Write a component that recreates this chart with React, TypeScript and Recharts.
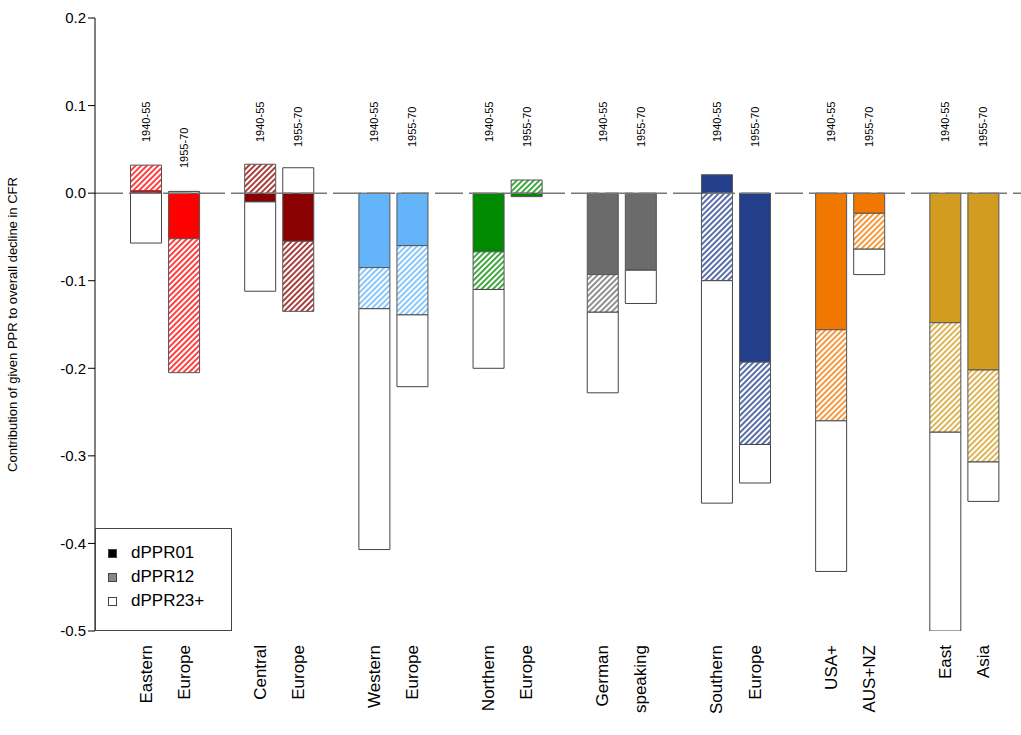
import React from "react";
import { BarChart, Bar, XAxis, YAxis, Cell, LabelList, ReferenceLine } from "recharts";

// 24 slots: two bars per region plus one empty spacer slot
const axisLabels = [
  "Eastern", "Europe", "", "Central", "Europe", "", "Western", "Europe", "",
  "Northern", "Europe", "", "German", "speaking", "", "Southern", "Europe", "",
  "USA+", "AUS+NZ", "", "East", "Asia", "",
];
const periods = ["1940-55", "1955-70", ""];
const regionColors = ["#ff0000", "#8b0000", "#63b4f8", "#008a00", "#6b6b6b", "#233f8c", "#f07800", "#d19c1f"];

const d01 = [0.003, -0.052, null, -0.01, -0.055, null, -0.085, -0.06, null, -0.067, -0.004, null,
  -0.093, -0.088, null, 0.021, -0.193, null, -0.156, -0.023, null, -0.148, -0.202, null];
const d12 = [0.029, -0.153, null, 0.033, -0.08, null, -0.047, -0.079, null, -0.043, 0.015, null,
  -0.043, 0, null, -0.1, -0.094, null, -0.104, -0.041, null, -0.125, -0.105, null];
const d23 = [-0.057, 0.002, null, -0.102, 0.029, null, -0.275, -0.082, null, -0.09, 0, null,
  -0.092, -0.038, null, -0.254, -0.044, null, -0.172, -0.029, null, -0.227, -0.045, null];

const yTicks = [-0.5, -0.4, -0.3, -0.2, -0.1, 0, 0.1, 0.2];

const data = axisLabels.map((name, i) => ({
  key: "s" + i,
  name,
  d01: d01[i],
  d12: d12[i],
  d23: d23[i],
}));

const colorOf = (i: number) => regionColors[Math.floor(i / 3)];
const font = "Arial, 'Liberation Sans', sans-serif";

const AxisTick = (props: any) => {
  const { x, payload } = props;
  const label = axisLabels[payload.index] ?? "";
  return (
    <text x={0} y={0} transform={`translate(${x + 6},645) rotate(-90)`} textAnchor="end"
      fontSize={17} fontFamily={font} fill="#000">
      {label}
    </text>
  );
};

const PeriodLabel = (props: any) => {
  const { x, width, value } = props;
  const idx = parseInt(String(value).slice(1), 10);
  const p = periods[idx % 3];
  if (!p) return null;
  const bottom = idx === 1 ? 168 : p === "1940-55" ? 142 : 147;
  const cx = x + width / 2 + 4;
  return (
    <text x={0} y={0} transform={`translate(${cx},${bottom}) rotate(-90)`} textAnchor="start"
      fontSize={11} fontFamily={font} fill="#000">
      {p}
    </text>
  );
};

export default function App() {
  return (
    <div style={{ position: "relative", width: 1021, height: 735, overflow: "hidden", background: "#fff" }}>
      <style>{`body{margin:0;overflow:hidden}`}</style>
      <svg width={0} height={0} style={{ position: "absolute" }}>
        <defs>
          {regionColors.map((c, i) => (
            <pattern key={i} id={"hatch" + i} patternUnits="userSpaceOnUse" width={4} height={4}
              patternTransform="rotate(45)">
              <rect width={4} height={4} fill="#fff" />
              <rect width={2} height={4} fill={c} opacity={0.75} />
            </pattern>
          ))}
        </defs>
      </svg>
      <BarChart width={1040} height={735} data={data} stackOffset="sign"
        margin={{ top: 18, right: 0, left: 0, bottom: 0 }} barSize={31}>
        <ReferenceLine y={0} stroke="#777" strokeWidth={1.5} strokeDasharray="28 6" />
        <YAxis domain={[-0.5, 0.2]} ticks={yTicks} width={95} allowDataOverflow
          tickFormatter={(v: number) => v.toFixed(1)} stroke="#000" tick={{ fill: "#000", fontSize: 15, fontFamily: font }}
          tickSize={7}
          label={{ value: "Contribution of given PPR to overall decline in CFR", angle: -90, position: "insideLeft",
            offset: 12, style: { textAnchor: "middle", fontSize: 13, fontFamily: font, fill: "#000" } }} />
        <XAxis dataKey="key" height={104} axisLine={false} tickLine={false} interval={0}
          padding={{ left: 31.5, right: 0 }} tick={<AxisTick />} />
        <Bar dataKey="d01" stackId="a" isAnimationActive={false} stroke="#555" strokeWidth={1}>
          {data.map((_, i) => <Cell key={i} fill={colorOf(i)} />)}
          <LabelList dataKey="key" content={<PeriodLabel />} />
        </Bar>
        <Bar dataKey="d12" stackId="a" isAnimationActive={false} stroke="#555" strokeWidth={1}>
          {data.map((_, i) => <Cell key={i} fill={`url(#hatch${Math.floor(i / 3)})`} />)}
        </Bar>
        <Bar dataKey="d23" stackId="a" isAnimationActive={false} stroke="#444" strokeWidth={1} fill="#fff" />
      </BarChart>
      <div style={{ position: "absolute", left: 95, top: 528, width: 137, height: 103, border: "1px solid #444",
        boxSizing: "border-box", background: "#fff", fontFamily: font, fontSize: 17, paddingTop: 12 }}>
        {[["#000", "dPPR01"], ["#888", "dPPR12"], ["#fff", "dPPR23+"]].map(([c, t]) => (
          <div key={t} style={{ display: "flex", alignItems: "center", height: 24, paddingLeft: 12 }}>
            <span style={{ width: 7, height: 7, background: c, border: "1px solid #444", marginRight: 14 }} />
            {t}
          </div>
        ))}
      </div>
    </div>
  );
}
